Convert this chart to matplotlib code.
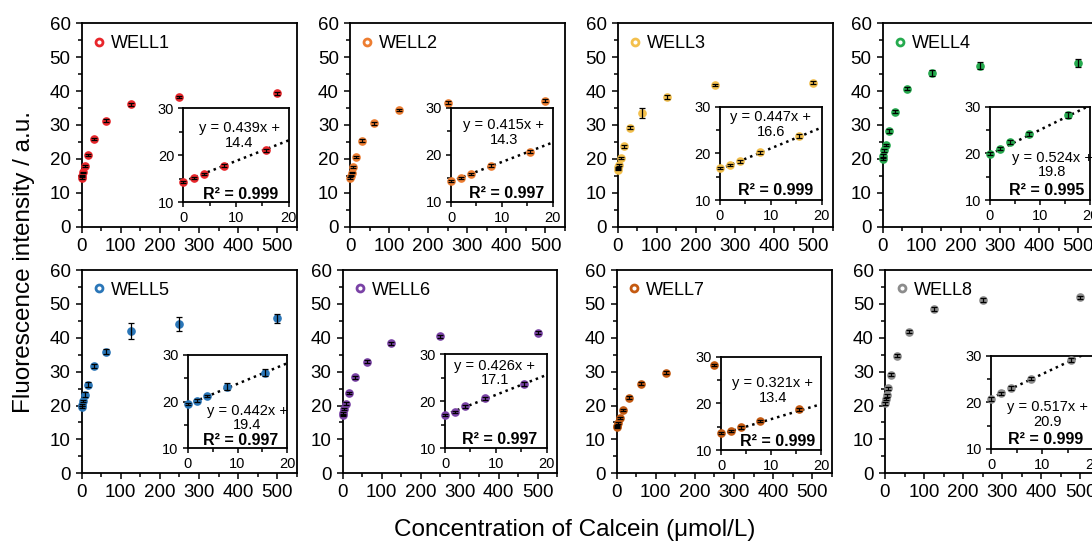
import numpy as np
import matplotlib.pyplot as plt
from matplotlib.lines import Line2D

plt.rcParams.update({
    'font.family': ['Liberation Sans', 'DejaVu Sans'],
    'axes.linewidth': 1.3,
    'xtick.direction': 'out',
    'ytick.direction': 'out',
})

FIG_W, FIG_H = 1092, 547

# data
conc = [0, 1.95, 3.9, 7.8, 15.6, 31.25, 62.5, 125, 250, 500]
wells = ['WELL1', 'WELL2', 'WELL3', 'WELL4', 'WELL5', 'WELL6', 'WELL7', 'WELL8']
well1 = [14.4, 15.1, 16.0, 17.8, 21.1, 25.9, 31.3, 36.1, 38.3, 39.3]
well2 = [14.4, 15.1, 15.9, 17.7, 20.6, 25.4, 30.5, 34.4, 36.6, 37.2]
well3 = [16.8, 17.5, 18.3, 20.2, 23.7, 29.2, 33.6, 38.3, 41.8, 42.5]
well4 = [19.9, 21.0, 22.5, 24.1, 28.2, 33.9, 40.7, 45.4, 47.5, 48.2]
well5 = [19.5, 20.2, 21.2, 23.2, 26.2, 31.7, 35.9, 42.0, 44.0, 45.7]
well6 = [17.1, 17.8, 18.9, 20.6, 23.7, 28.3, 32.9, 38.4, 40.4, 41.5]
well7 = [13.6, 14.1, 14.9, 16.2, 18.7, 22.3, 26.4, 29.7, 32.0, 33.0]
well8 = [20.7, 21.9, 23.0, 25.1, 29.1, 34.7, 41.8, 48.4, 51.1, 51.9]
err1 = [0.2, 0.2, 0.2, 0.3, 0.3, 0.4, 0.4, 0.4, 0.4, 0.4]
err2 = [0.2, 0.2, 0.2, 0.3, 0.3, 0.4, 0.4, 0.4, 0.4, 0.4]
err3 = [0.2, 0.2, 0.3, 0.3, 0.4, 0.4, 1.5, 0.5, 0.4, 0.4]
err4 = [0.3, 0.3, 0.4, 0.4, 0.6, 0.4, 0.4, 0.9, 1.0, 1.2]
err5 = [0.3, 0.3, 0.3, 0.7, 0.8, 0.5, 0.7, 2.5, 2.1, 1.3]
err6 = [0.2, 0.2, 0.3, 0.3, 0.4, 0.4, 0.4, 0.4, 0.4, 0.4]
err7 = [0.2, 0.2, 0.3, 0.3, 0.3, 0.4, 0.4, 0.4, 0.4, 0.4]
err8 = [0.4, 0.4, 0.4, 0.4, 0.5, 0.5, 0.5, 0.6, 0.6, 0.5]
slopes = [0.439, 0.415, 0.447, 0.524, 0.442, 0.426, 0.321, 0.517]
intercepts = [14.4, 14.3, 16.6, 19.8, 19.4, 17.1, 13.4, 20.9]
r2_labels = ['0.999', '0.997', '0.999', '0.995', '0.997', '0.997', '0.999', '0.999']
colors = ['#e8262b', '#ed7d31', '#f3c04d', '#25aa4e',
          '#2a76b8', '#7a42a6', '#c55a11', '#8c8c8c']

values = [well1, well2, well3, well4, well5, well6, well7, well8]
errors = [err1, err2, err3, err4, err5, err6, err7, err8]

# layout in pixels (left, top, right, bottom)
main_boxes = [(81.7, 23.3, 296.7, 226.7), (350, 23.3, 565, 226.7),
              (617.7, 23.3, 832.7, 226.7), (882.7, 23.3, 1097.7, 226.7),
              (81.7, 270, 296.7, 473.3), (342.7, 270, 557.3, 473.3),
              (616.7, 270, 831.7, 473.3), (885, 270, 1100, 473.3)]
inset_boxes = [(183.3, 108.3, 288.7, 202.3), (451, 107.7, 552.7, 201.7),
               (720, 106.7, 821.7, 200), (990, 106.7, 1090, 200),
               (187.7, 355, 287.3, 448.3), (445, 354.3, 546.7, 448.3),
               (721, 356.7, 821, 450), (991, 355.7, 1093.7, 449)]
eq_pos = [(0.53, 0.71), (0.52, 0.736), (0.50, 0.81), (0.62, 0.377),
          (0.60, 0.325), (0.49, 0.80), (0.52, 0.64), (0.55, 0.37)]
r2_pos = [(0.90, 0.085), (0.92, 0.09), (0.92, 0.107), (0.94, 0.10),
          (0.91, 0.08), (0.91, 0.09), (0.94, 0.09), (0.90, 0.10)]


def px_rect(box):
    l, t, r, b = box
    return [l / FIG_W, 1 - b / FIG_H, (r - l) / FIG_W, (b - t) / FIG_H]


def draw_points(ax, x, y, e, color):
    ax.plot(x, y, 'o', color=color, ms=5.2, mec=color, zorder=3, clip_on=False)
    ax.errorbar(x, y, yerr=e, fmt='none', ecolor='black', elinewidth=0.9,
                capsize=2.5, capthick=0.9, zorder=4, clip_on=False)


fig = plt.figure(figsize=(FIG_W / 100, FIG_H / 100), dpi=100)

for i in range(8):
    ax = fig.add_axes(px_rect(main_boxes[i]))
    draw_points(ax, conc, values[i], errors[i], colors[i])
    ax.set_xlim(0, 550)
    ax.set_ylim(0, 60)
    ax.set_xticks(np.arange(0, 501, 100))
    ax.set_xticks(np.arange(0, 551, 50), minor=True)
    ax.set_yticks(np.arange(0, 61, 10))
    ax.set_yticks(np.arange(0, 61, 5), minor=True)
    ax.tick_params(which='major', length=4, width=1.1, labelsize=13.5, pad=4)
    ax.tick_params(which='minor', length=3, width=1.1)
    handle = Line2D([], [], ls='', marker='o', ms=5, mfc='white', mec=colors[i], mew=2)
    ax.legend([handle], [wells[i]], loc='upper left', frameon=False, fontsize=13,
              handlelength=0.6, handletextpad=0.35, borderaxespad=0.25,
              bbox_to_anchor=(0.0, 1.0))

    ins = fig.add_axes(px_rect(inset_boxes[i]))
    ins.set_facecolor('white')
    draw_points(ins, conc[:5], values[i][:5], errors[i][:5], colors[i])
    xl = np.array([0, 20])
    ins.plot(xl, slopes[i] * xl + intercepts[i], ls=(0, (1, 1.6)), color='black',
             lw=1.8, zorder=2)
    ins.set_xlim(0, 20)
    ins.set_ylim(10, 30)
    ins.set_xticks([0, 10, 20])
    ins.set_xticks([5, 15], minor=True)
    ins.set_yticks([10, 20, 30])
    ins.set_yticks([15, 25], minor=True)
    ins.tick_params(which='major', length=3.5, width=1.1, labelsize=10.5, pad=3)
    ins.tick_params(which='minor', length=3, width=1.1)
    ex, ey = eq_pos[i]
    ins.text(ex, ey, 'y = %.3fx +\n%.1f' % (slopes[i], intercepts[i]),
             transform=ins.transAxes, ha='center', va='center',
             multialignment='center', fontsize=10.5, linespacing=1.05, zorder=5)
    rx, ry = r2_pos[i]
    ins.text(rx, ry, 'R² = ' + r2_labels[i], transform=ins.transAxes,
             ha='right', va='center', fontsize=11.5, fontweight='bold', zorder=5)

fig.text(0.022, 0.521, 'Fluorescence intensity / a.u.', rotation=90,
         ha='center', va='center', fontsize=17.5)
fig.text(0.5266, 0.031, 'Concentration of Calcein (μmol/L)',
         ha='center', va='center', fontsize=17.5)

fig.savefig('out.png', dpi=100)
